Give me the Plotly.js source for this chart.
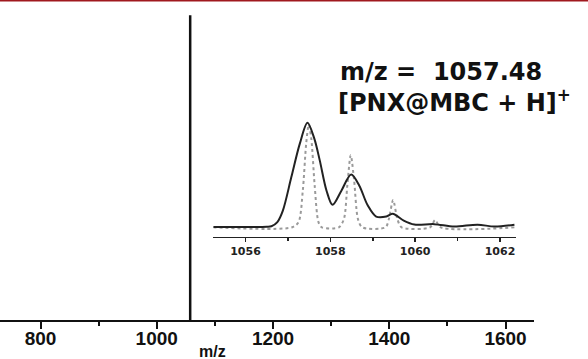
<!DOCTYPE html>
<html>
<head>
<meta charset="utf-8">
<script src="https://cdn.plot.ly/plotly-3.0.1.min.js"></script>
<style>html,body{margin:0;padding:0;background:#fff;}#chart{width:588px;height:359px;}</style>
</head>
<body>
<div id="chart"></div>
<script>
// Main spectrum: single dominant peak
var mainMz = [1057.48, 1057.48];
var mainIntensity = [0, 100];

// Inset: experimental isotope pattern (solid)
var expMz = [1055.24, 1056.0, 1056.5, 1056.61, 1056.75, 1056.88, 1057.08, 1057.28, 1057.46, 1057.62, 1057.75, 1057.91, 1058.05, 1058.26, 1058.49, 1058.68, 1058.88, 1059.08, 1059.32, 1059.47, 1059.73, 1059.98, 1060.45, 1060.92, 1061.47, 1061.87, 1062.34];
var expInt = [0.3, 0.3, 0.5, 1, 5, 16, 48, 80, 100, 85, 64, 35, 21.5, 35, 50.5, 40, 21, 10.3, 10.3, 12.9, 6.4, 2.6, 3, 0.7, 2.5, 0.7, 2.5];

// Inset: theoretical isotope pattern (dotted)
var thMz = [1055.24, 1057.1, 1057.25, 1057.35, 1057.43, 1057.49, 1057.55, 1057.63, 1057.72, 1057.8, 1058.2, 1058.32, 1058.4, 1058.48, 1058.56, 1058.65, 1058.75, 1059.3, 1059.38, 1059.48, 1059.58, 1059.68, 1060.35, 1060.47, 1060.6, 1062.37];
var thInt = [0, 0, 5, 35, 80, 98, 85, 40, 5, 0, 0, 8, 40, 69, 45, 8, 0, 0, 8, 26, 8, 0, 0, 7, 0, 0];

var mainTicks = [800, 1000, 1200, 1400, 1600];
var insetTicks = [1056, 1058, 1060, 1062];

var traces = [
  {x: mainMz, y: mainIntensity, type: 'scatter', mode: 'lines', line: {color: '#111', width: 2.5}, xaxis: 'x', yaxis: 'y', hoverinfo: 'skip'},
  {x: thMz, y: thInt, type: 'scatter', mode: 'lines', line: {color: '#9a9a9a', width: 2, dash: 'dot', shape: 'spline', smoothing: 0.8}, xaxis: 'x2', yaxis: 'y2'},
  {x: expMz, y: expInt, type: 'scatter', mode: 'lines', line: {color: '#222', width: 2, shape: 'spline', smoothing: 0.9}, xaxis: 'x2', yaxis: 'y2'}
];

var layout = {
  width: 588, height: 359,
  margin: {l: 0, r: 54, t: 0, b: 39},
  paper_bgcolor: '#fff', plot_bgcolor: 'rgba(0,0,0,0)',
  showlegend: false,
  font: {family: 'Liberation Sans, Arial, sans-serif', color: '#111'},
  xaxis: {
    range: [730.3, 1649], showgrid: false, zeroline: false,
    showline: true, linecolor: '#111', linewidth: 2,
    ticks: 'outside', ticklen: 7, tickwidth: 2, tickcolor: '#111',
    tickvals: mainTicks, ticktext: mainTicks.map(String),
    minor: {dtick: 100, tick0: 800, ticks: 'outside', ticklen: 4, tickwidth: 2, tickcolor: '#111', showgrid: false},
    tickfont: {family: 'Liberation Sans, Arial, sans-serif', size: 19, weight: 'bold', color: '#111'},
    ticklabelstandoff: -7,
    domain: [0, 1]
  },
  yaxis: {range: [0, 105], visible: false, domain: [0, 1]},
  xaxis2: {
    range: [1055.24, 1062.37], anchor: 'y2', domain: [213.3/534, 515.7/534],
    showgrid: false, zeroline: false,
    showline: true, linecolor: '#222', linewidth: 1.5,
    ticks: 'outside', ticklen: 4, tickwidth: 1.5, tickcolor: '#222',
    tickvals: insetTicks, ticktext: insetTicks.map(String),
    minor: {dtick: 1, tick0: 1055, ticks: 'outside', ticklen: 3, tickwidth: 1.5, tickcolor: '#222', showgrid: false},
    tickfont: {family: 'DejaVu Sans, sans-serif', size: 11, weight: 'bold', color: '#222'}
  },
  yaxis2: {range: [-9, 105], visible: false, anchor: 'x2', domain: [0.2603, 0.6328]},
  shapes: [
    {type: 'line', xref: 'paper', yref: 'paper', x0: 0, x1: 588/534, y0: 1.0, y1: 1.0, line: {color: '#a0181e', width: 3}}
  ],
  annotations: [
    {text: 'm/z', xref: 'paper', yref: 'paper', x: 212.7/534, y: -31/320, xanchor: 'center', yanchor: 'middle', showarrow: false, font: {size: 16, weight: 'bold', color: '#111'}},
    {text: 'm/z =  1057.48', xref: 'paper', yref: 'paper', x: 338/534, y: (320-72)/320, xanchor: 'left', yanchor: 'middle', showarrow: false, font: {family: 'DejaVu Sans, sans-serif', size: 24, weight: 'bold', color: '#111'}},
    {text: '[PNX@MBC + H]<sup>+</sup>', xref: 'paper', yref: 'paper', x: 336/534, y: (320-101)/320, xanchor: 'left', yanchor: 'middle', showarrow: false, font: {family: 'DejaVu Sans, sans-serif', size: 24, weight: 'bold', color: '#111'}}
  ]
};

Plotly.newPlot('chart', traces, layout, {displayModeBar: false, staticPlot: true});
</script>
</body>
</html>
